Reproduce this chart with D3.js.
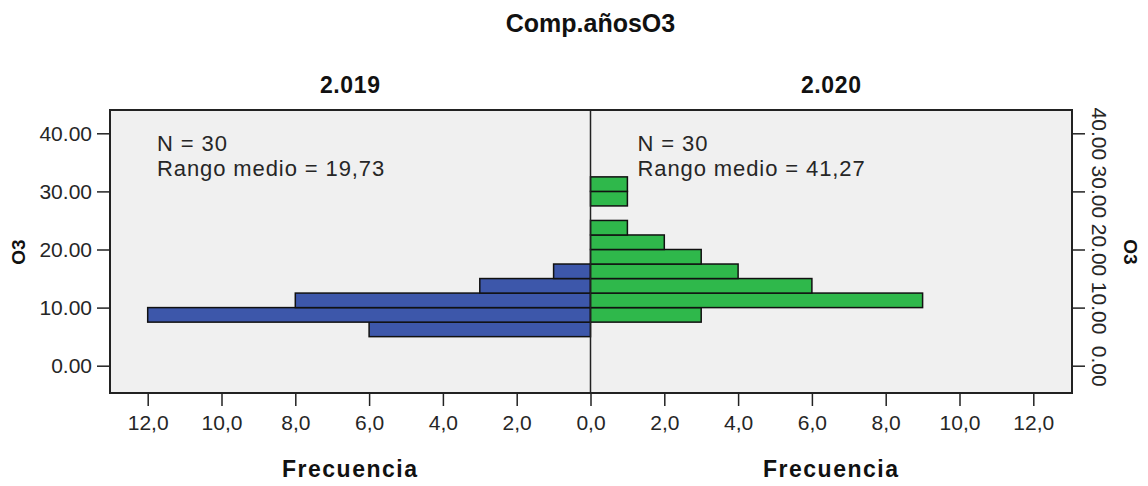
<!DOCTYPE html>
<html>
<head>
<meta charset="utf-8">
<script src="https://cdn.jsdelivr.net/npm/d3@7"></script>
<style>
  html, body { margin: 0; padding: 0; background: #ffffff; }
  svg { display: block; }
  text { font-family: "Liberation Sans", Arial, sans-serif; }
</style>
</head>
<body>
<svg id="chart" width="1148" height="486"></svg>
<script>
// ---- data ----
const binStarts = [5, 7.5, 10, 12.5, 15, 17.5, 20, 22.5, 25, 27.5, 30];
const binWidth = 2.5;
const counts2019 = [6, 12, 8, 3, 1, 0, 0, 0, 0, 0, 0];
const counts2020 = [0, 3, 9, 6, 4, 3, 2, 1, 0, 1, 1];
const groups = ["2.019", "2.020"];
const yTicks = [0, 10, 20, 30, 40];
const xTicks = [0, 2, 4, 6, 8, 10, 12];
const notes2019 = ["N = 30", "Rango medio = 19,73"];
const notes2020 = ["N = 30", "Rango medio = 41,27"];
const title = "Comp.añosO3";
const yLabel = "O3";
const xLabel = "Frecuencia";

// ---- layout ----
const svg = d3.select("#chart");
const frame = { left: 110, right: 1072, top: 110, bottom: 393 };
const cx = 590.5;
const unitX = 36.9;
const xL = d3.scaleLinear().domain([0, 13]).range([cx, cx - 13 * unitX]);
const xR = d3.scaleLinear().domain([0, 13]).range([cx, cx + 13 * unitX]);
const y = d3.scaleLinear().domain([0, 40]).range([365.7, 133.3]);

const blue = "#3d57aa";
const green = "#2fb84b";
const dark = "#222";

// frame background
svg.append("rect")
  .attr("x", frame.left).attr("y", frame.top)
  .attr("width", frame.right - frame.left).attr("height", frame.bottom - frame.top)
  .attr("fill", "#f0f0f0").attr("stroke", "none");

// bars
const d2019 = binStarts.map((b, i) => ({ b, c: counts2019[i] })).filter(d => d.c > 0);
const d2020 = binStarts.map((b, i) => ({ b, c: counts2020[i] })).filter(d => d.c > 0);

svg.append("g").selectAll("rect").data(d2019).join("rect")
  .attr("x", d => xL(d.c))
  .attr("y", d => y(d.b + binWidth))
  .attr("width", d => xL(0) - xL(d.c))
  .attr("height", d => y(d.b) - y(d.b + binWidth))
  .attr("fill", blue).attr("stroke", "#111").attr("stroke-width", 1.5);

svg.append("g").selectAll("rect").data(d2020).join("rect")
  .attr("x", xR(0))
  .attr("y", d => y(d.b + binWidth))
  .attr("width", d => xR(d.c) - xR(0))
  .attr("height", d => y(d.b) - y(d.b + binWidth))
  .attr("fill", green).attr("stroke", "#111").attr("stroke-width", 1.5);

// center line
svg.append("line")
  .attr("x1", cx).attr("x2", cx).attr("y1", frame.top).attr("y2", frame.bottom)
  .attr("stroke", dark).attr("stroke-width", 1.5);

// frame border
svg.append("rect")
  .attr("x", frame.left).attr("y", frame.top)
  .attr("width", frame.right - frame.left).attr("height", frame.bottom - frame.top)
  .attr("fill", "none").attr("stroke", dark).attr("stroke-width", 2);

const fmtX = d => d3.format(".1f")(d).replace(".", ",");
const fmtY = d => d3.format(".2f")(d);

function styleAxis(g) {
  g.select(".domain").remove();
  g.selectAll(".tick line").attr("stroke", dark).attr("stroke-width", 1.5);
  g.selectAll(".tick text").attr("fill", "#262626")
    .style("font-size", "21px").style("font-family", "'Liberation Sans', Arial, sans-serif");
}

// x axes
const gxL = svg.append("g").attr("transform", `translate(0,${frame.bottom})`)
  .call(d3.axisBottom(xL).tickValues(xTicks).tickFormat(fmtX).tickSize(13).tickPadding(5));
styleAxis(gxL);
gxL.selectAll(".tick text").attr("dy", "0.9em");
const gxR = svg.append("g").attr("transform", `translate(0,${frame.bottom})`)
  .call(d3.axisBottom(xR).tickValues(xTicks.filter(t => t > 0)).tickFormat(fmtX).tickSize(13).tickPadding(5));
styleAxis(gxR);
gxR.selectAll(".tick text").attr("dy", "0.9em");

// left y axis
const gyL = svg.append("g").attr("transform", `translate(${frame.left},0)`)
  .call(d3.axisLeft(y).tickValues(yTicks).tickFormat(fmtY).tickSize(13).tickPadding(5));
styleAxis(gyL);

// right y axis (rotated labels)
const gyR = svg.append("g").attr("transform", `translate(${frame.right},0)`)
  .call(d3.axisRight(y).tickValues(yTicks).tickFormat(fmtY).tickSize(13).tickPadding(5));
styleAxis(gyR);
gyR.selectAll(".tick text")
  .attr("x", null).attr("dy", null)
  .attr("text-anchor", "middle")
  .attr("transform", "translate(20,0) rotate(90)");

// titles
svg.append("text").attr("x", 590.5).attr("y", 32).attr("text-anchor", "middle")
  .style("font-size", "25px").style("font-weight", "bold").attr("fill", "#111")
  .text(title);

const centers = [(frame.left + cx) / 2, (cx + frame.right) / 2];
svg.selectAll(".grp").data(groups).join("text")
  .attr("x", (d, i) => centers[i]).attr("y", 93).attr("text-anchor", "middle")
  .style("font-size", "23px").style("font-weight", "bold").style("letter-spacing", "0.6px")
  .attr("fill", "#111").text(d => d);

svg.selectAll(".xl").data(centers).join("text")
  .attr("x", d => d).attr("y", 477).attr("text-anchor", "middle")
  .style("font-size", "23px").style("font-weight", "bold").style("letter-spacing", "1.5px")
  .attr("fill", "#111").text(xLabel);

svg.append("text").attr("transform", "translate(25,252) rotate(-90)")
  .attr("text-anchor", "middle").style("font-size", "19px").style("font-weight", "bold")
  .attr("fill", "#111").text(yLabel);
svg.append("text").attr("transform", "translate(1124,252) rotate(90)")
  .attr("text-anchor", "middle").style("font-size", "19px").style("font-weight", "bold")
  .attr("fill", "#111").text(yLabel);

// annotations
function notes(lines, x0) {
  svg.append("g").selectAll("text").data(lines).join("text")
    .attr("x", x0).attr("y", (d, i) => 151 + i * 25)
    .style("font-size", "22px").style("letter-spacing", "0.9px")
    .attr("fill", "#262626").text(d => d);
}
notes(notes2019, frame.left + 47);
notes(notes2020, cx + 47);
</script>
</body>
</html>
